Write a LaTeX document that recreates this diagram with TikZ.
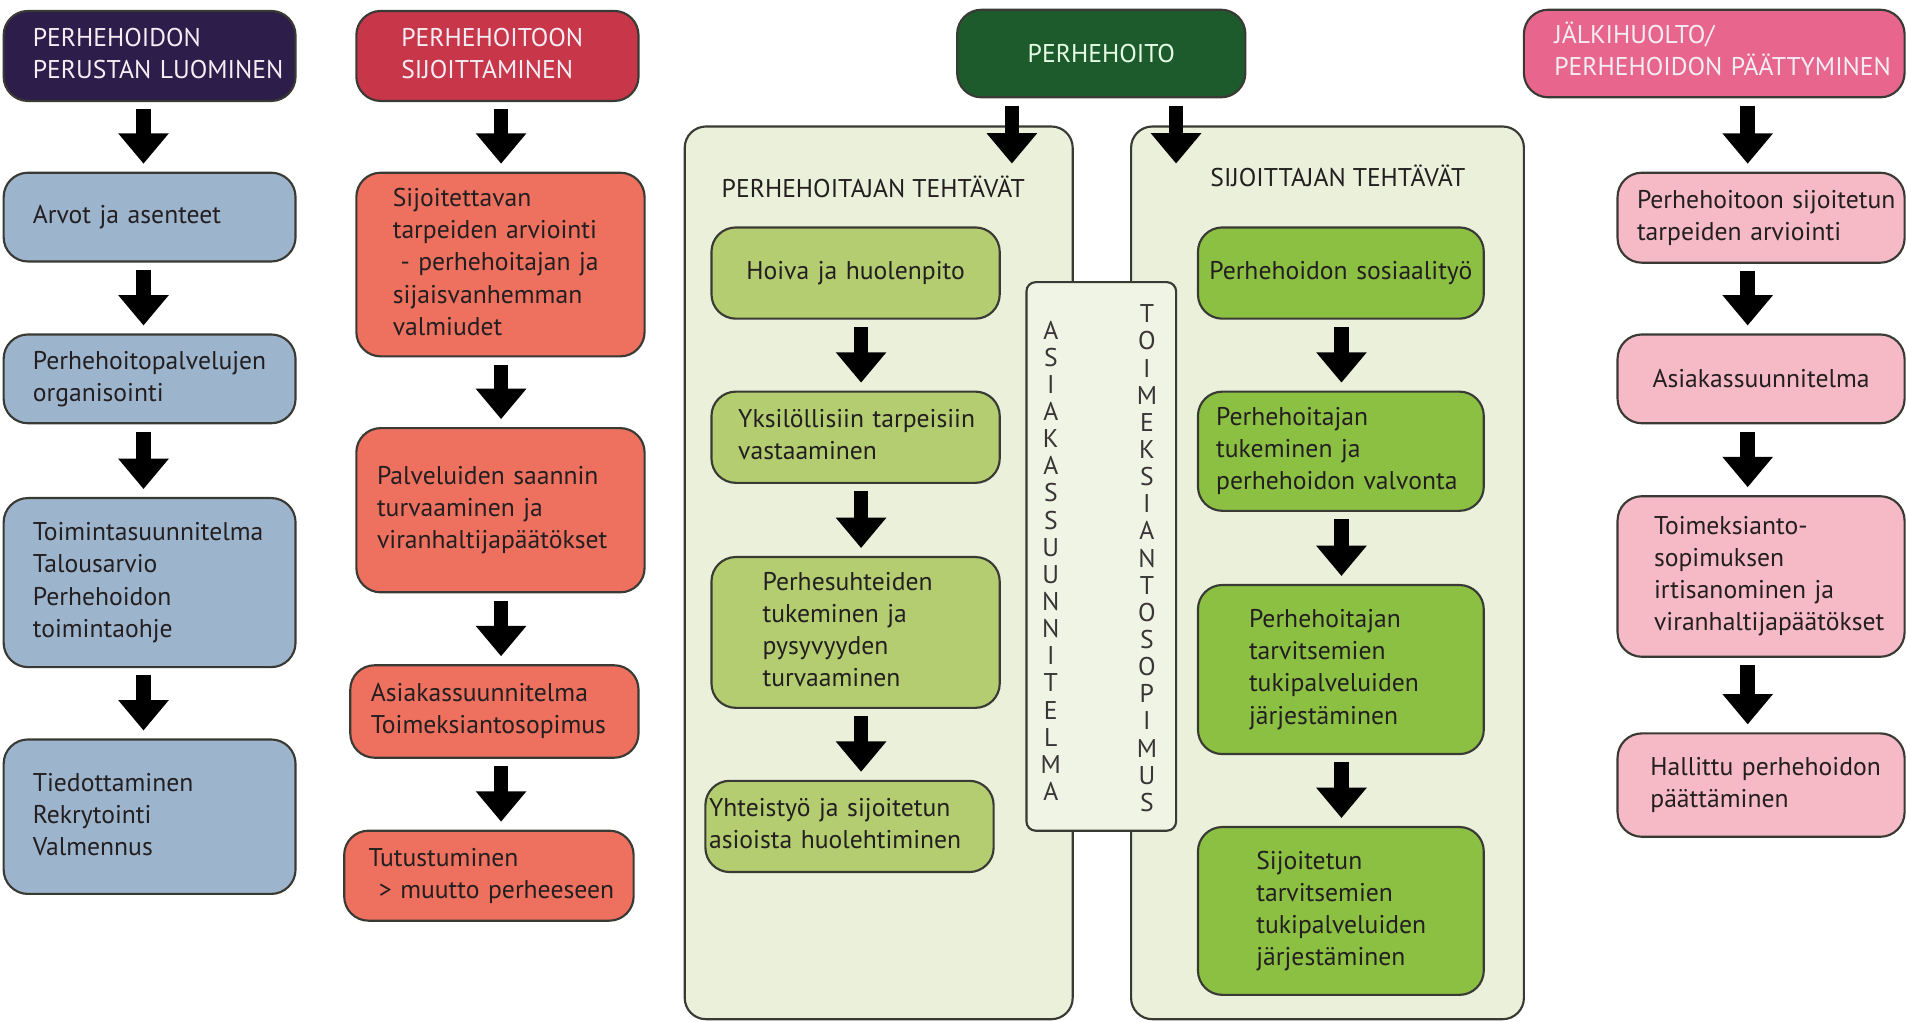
\documentclass[tikz,border=0pt]{standalone}
\usepackage{fontspec}
\setmainfont{PT Sans}
\usepackage{tikz}
\usetikzlibrary{arrows.meta,positioning,calc}

\definecolor{hdrpurple}{HTML}{2C1D4B}
\definecolor{hdrred}{HTML}{C8364A}
\definecolor{hdrgreen}{HTML}{1D5B2D}
\definecolor{hdrpink}{HTML}{E8658E}
\definecolor{boxblue}{HTML}{9DB4CD}
\definecolor{boxsalmon}{HTML}{EE705F}
\definecolor{panelcream}{HTML}{EAF0DA}
\definecolor{boxlime}{HTML}{B3CD70}
\definecolor{boxgreen}{HTML}{8CC043}
\definecolor{boxpink}{HTML}{F6B9C6}
\definecolor{linegray}{HTML}{3A3A35}
\definecolor{textdark}{HTML}{231F20}
\definecolor{hdrtext}{HTML}{F4EEF4}

% unbreakable lines inside a box
\newcommand\boxlines[1]{\begin{tabular}{@{}l@{}}#1\end{tabular}}

\begin{document}
\begin{tikzpicture}[x=0.02cm, y=-0.02cm,
    every node/.style={font=\fontsize{12}{15}\selectfont, text=textdark},
    box/.style={draw=linegray, line width=1pt, rounded corners=0.4cm, align=left, inner ysep=0pt},
    sized/.code 2 args={%
        \pgfmathsetlengthmacro\boxw{#1*0.02cm}%
        \pgfmathsetlengthmacro\boxtw{(#1-2*#2)*0.02cm}%
        \pgfmathsetlengthmacro\boxin{#2*0.02cm}%
        \edef\boxnext{\noexpand\tikzset{minimum width=\boxw, text width=\boxtw, inner xsep=\boxin}}\boxnext},
    hdr/.style={box, text=hdrtext},
    panel/.style={draw=linegray, line width=1pt, fill=panelcream, rounded corners=0.35cm},
    vletters/.style={align=center, font=\fontsize{12}{12.7}\selectfont, text=textdark!90},
    bigarrow/.style={line width=0.24cm, -{Triangle[width=0.8cm, length=0.5cm]}, shorten <=0.12cm, shorten >=0.13cm}]
    \useasboundingbox (0,0) rectangle (1568,840);

    % Headers
    \node[hdr, fill=hdrpurple, sized={240}{24}, minimum height=74*0.02cm] (h1) at (123,46) {\boxlines{PERHEHOIDON\\PERUSTAN LUOMINEN}};
    \node[hdr, fill=hdrred, sized={232}{37}, minimum height=74*0.02cm] (h2) at (409,46) {\boxlines{PERHEHOITOON\\SIJOITTAMINEN}};
    \node[hdr, fill=hdrgreen, sized={237}{0}, align=center, minimum height=72*0.02cm, text=green!10] (h3) at (905.5,44) {PERHEHOITO};
    \node[hdr, fill=hdrpink, sized={313}{25}, minimum height=72*0.02cm] (h5) at (1409.5,44) {\boxlines{JÄLKIHUOLTO/\\PERHEHOIDON PÄÄTTYMINEN}};

    % Column 1: perustan luominen
    \node[box, fill=boxblue, sized={240}{24}, minimum height=73*0.02cm] (a1) at (123,178.5) {Arvot ja asenteet};
    \node[box, fill=boxblue, sized={240}{24}, minimum height=73*0.02cm] (a2) at (123,311.5) {\boxlines{Perhehoitopalvelujen\\organisointi}};
    \node[box, fill=boxblue, sized={240}{24}, minimum height=139*0.02cm] (a3) at (123,479) {\boxlines{Toimintasuunnitelma\\Talousarvio\\Perhehoidon\\toimintaohje}};
    \node[box, fill=boxblue, sized={240}{24}, minimum height=127*0.02cm] (a4) at (123,671.5) {\boxlines{Tiedottaminen\\Rekrytointi\\Valmennus}};

    % Column 2: sijoittaminen
    \node[box, fill=boxsalmon, sized={237}{30}, minimum height=151*0.02cm] (b1) at (411.5,217.5) {\boxlines{Sijoitettavan\\tarpeiden arviointi\\\hspace*{0.3em}- perhehoitajan ja\\sijaisvanhemman\\valmiudet}};
    \node[box, fill=boxsalmon, sized={237}{17}, minimum height=135*0.02cm] (b2) at (411.5,419.5) {\boxlines{Palveluiden saannin\\turvaaminen ja\\viranhaltijapäätökset}};
    \node[box, fill=boxsalmon, sized={237}{17}, minimum height=76*0.02cm] (b3) at (406.5,585) {\boxlines{Asiakassuunnitelma\\Toimeksiantosopimus}};
    \node[box, fill=boxsalmon, sized={238}{20}, minimum height=74*0.02cm] (b4) at (402,720) {\boxlines{Tutustuminen\\\hspace*{0.4em}> muutto perheeseen}};

    % Panels for perhehoito
    \node[panel, minimum width=319*0.02cm, minimum height=734*0.02cm] (pl) at (722.5,471) {};
    \node[panel, minimum width=323*0.02cm, minimum height=734*0.02cm] (pr) at (1091.5,471) {};
    \node (tl) at (718,154) {PERHEHOITAJAN TEHTÄVÄT};
    \node (tr) at (1100,145) {SIJOITTAJAN TEHTÄVÄT};

    % Middle strip
    \node[draw=linegray, line width=1pt, fill=panelcream!70!white, rounded corners=0.15cm,
          minimum width=123*0.02cm, minimum height=451*0.02cm] (m) at (905.5,457.5) {};
    \node[vletters] (ml) at (864,461)
        {A\\S\\I\\A\\K\\A\\S\\S\\U\\U\\N\\N\\I\\T\\E\\L\\M\\A};
    \node[vletters] (mr) at (943,459)
        {T\\O\\I\\M\\E\\K\\S\\I\\A\\N\\T\\O\\S\\O\\P\\I\\M\\U\\S};

    % Left panel boxes
    \node[box, fill=boxlime, sized={237}{0}, align=center, minimum height=75*0.02cm] (c1) at (703.5,224.5) {Hoiva ja huolenpito};
    \node[box, fill=boxlime, sized={237}{22}, minimum height=75*0.02cm] (c2) at (703.5,359.5) {\boxlines{Yksilöllisiin tarpeisiin\\vastaaminen}};
    \node[box, fill=boxlime, sized={237}{42}, minimum height=124*0.02cm] (c3) at (703.5,520) {\boxlines{Perhesuhteiden\\tukeminen ja\\pysyvyyden\\turvaaminen}};
    \node[box, fill=boxlime, sized={237}{3}, minimum height=75*0.02cm] (c4) at (698.5,679.5) {\boxlines{Yhteistyö ja sijoitetun\\asioista huolehtiminen}};

    % Right panel boxes
    \node[box, fill=boxgreen, sized={235}{0}, align=center, minimum height=75*0.02cm] (d1) at (1102.5,224.5) {Perhehoidon sosiaalityö};
    \node[box, fill=boxgreen, sized={235}{15}, minimum height=98*0.02cm] (d2) at (1102.5,371) {\boxlines{Perhehoitajan\\tukeminen ja\\perhehoidon valvonta}};
    \node[box, fill=boxgreen, sized={235}{42}, minimum height=139*0.02cm] (d3) at (1102.5,550.5) {\boxlines{Perhehoitajan\\tarvitsemien\\tukipalveluiden\\järjestäminen}};
    \node[box, fill=boxgreen, sized={235}{48}, minimum height=138*0.02cm] (d4) at (1102.5,749) {\boxlines{Sijoitetun\\tarvitsemien\\tukipalveluiden\\järjestäminen}};

    % Column 5: jalkihuolto
    \node[box, fill=boxpink, sized={236}{16}, minimum height=74*0.02cm] (e1) at (1448,179) {\boxlines{Perhehoitoon sijoitetun\\tarpeiden arviointi}};
    \node[box, fill=boxpink, sized={236}{0}, align=center, minimum height=73*0.02cm] (e2) at (1448,311.5) {Asiakassuunnitelma};
    \node[box, fill=boxpink, sized={236}{30}, minimum height=132*0.02cm] (e3) at (1448,474) {\boxlines{Toimeksianto-\\sopimuksen\\irtisanominen ja\\viranhaltijapäätökset}};
    \node[box, fill=boxpink, sized={236}{27}, minimum height=85*0.02cm] (e4) at (1448,645.5) {\boxlines{Hallittu perhehoidon\\päättäminen}};

    % Arrow columns
    \coordinate (colA) at (118,0);
    \coordinate (colB) at (412,0);
    \coordinate (colC) at (708,0);
    \coordinate (colD) at (1103,0);
    \coordinate (colE) at (1437,0);
    \coordinate (inL) at (832,141);
    \coordinate (inR) at (967,141);

    \draw[bigarrow] (colA |- h1.south) -- (colA |- a1.north);
    \draw[bigarrow] (colA |- a1.south) -- (colA |- a2.north);
    \draw[bigarrow] (colA |- a2.south) -- (colA |- a3.north);
    \draw[bigarrow] (colA |- a3.south) -- (colA |- a4.north);

    \draw[bigarrow] (colB |- h2.south) -- (colB |- b1.north);
    \draw[bigarrow] (colB |- b1.south) -- (colB |- b2.north);
    \draw[bigarrow] (colB |- b2.south) -- (colB |- b3.north);
    \draw[bigarrow] (colB |- b3.south) -- (colB |- b4.north);

    \draw[bigarrow] (inL |- h3.south) -- (inL);
    \draw[bigarrow] (inR |- h3.south) -- (inR);

    \draw[bigarrow] (colC |- c1.south) -- (colC |- c2.north);
    \draw[bigarrow] (colC |- c2.south) -- (colC |- c3.north);
    \draw[bigarrow] (colC |- c3.south) -- (colC |- c4.north);

    \draw[bigarrow] (colD |- d1.south) -- (colD |- d2.north);
    \draw[bigarrow] (colD |- d2.south) -- (colD |- d3.north);
    \draw[bigarrow] (colD |- d3.south) -- (colD |- d4.north);

    \draw[bigarrow] (colE |- h5.south) -- (colE |- e1.north);
    \draw[bigarrow] (colE |- e1.south) -- (colE |- e2.north);
    \draw[bigarrow] (colE |- e2.south) -- (colE |- e3.north);
    \draw[bigarrow] (colE |- e3.south) -- (colE |- e4.north);
\end{tikzpicture}
\end{document}
